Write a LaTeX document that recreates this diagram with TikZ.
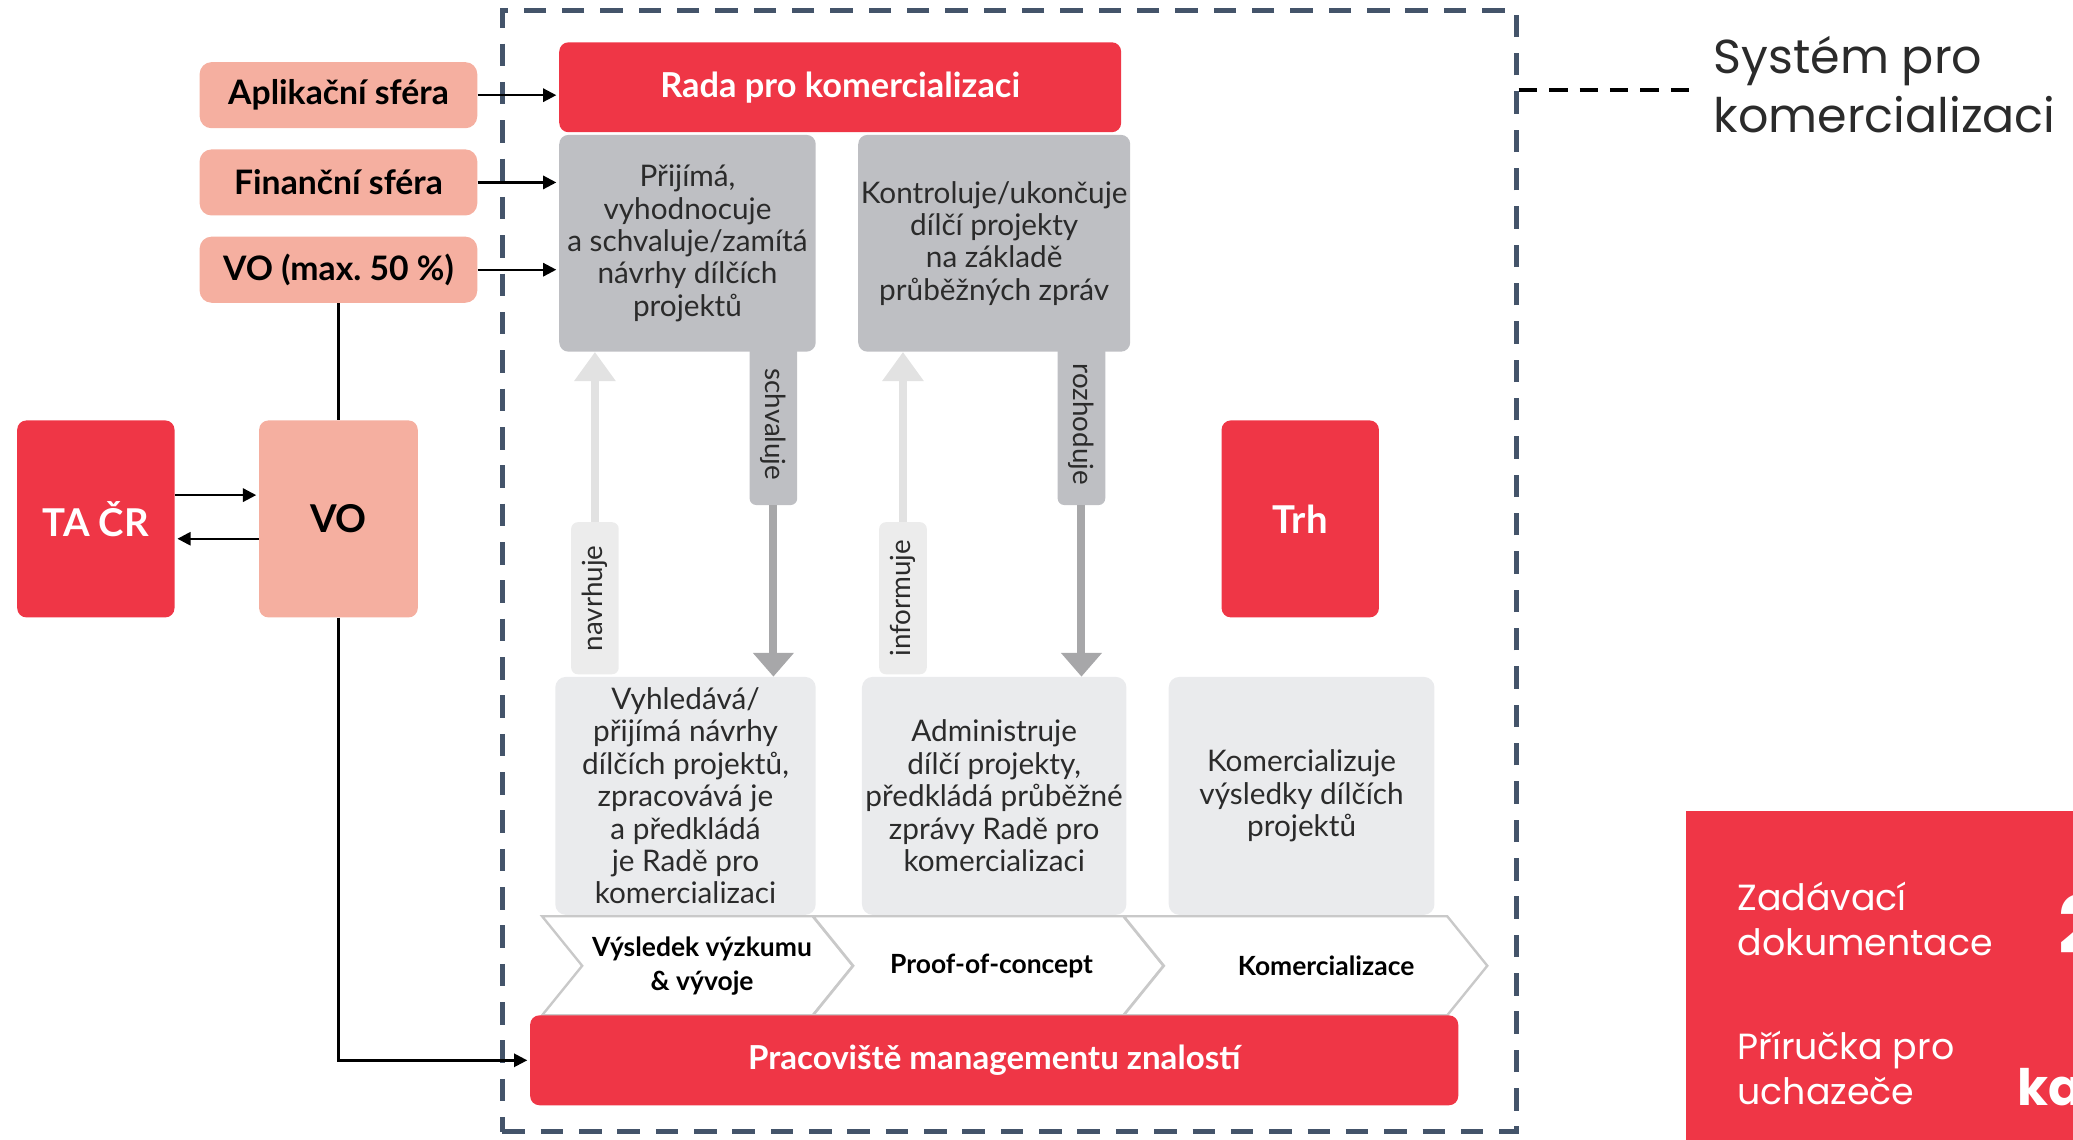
\documentclass[tikz,border=0pt]{standalone}
\usepackage{fontspec}
\setmainfont{Lato}
\newfontfamily\gothic{Poppins}
\usetikzlibrary{positioning,arrows.meta,shapes.symbols}

\definecolor{crred}{HTML}{EF3646}
\definecolor{crpink}{HTML}{F5AFA0}
\definecolor{crgrey}{HTML}{BEBFC3}
\definecolor{crlight}{HTML}{EAEBED}
\definecolor{crnote}{HTML}{ECECEC}
\definecolor{crdark}{HTML}{A7A7A9}
\definecolor{crpale}{HTML}{E2E2E2}
\definecolor{crchev}{HTML}{C9C9C9}
\definecolor{crslate}{HTML}{44546A}
\definecolor{crtext}{HTML}{2B2B2B}

\tikzset{
  redbox/.style={fill=crred, rounded corners=7pt, text=white, inner sep=2pt,
    font=\bfseries\fontsize{26}{30}\selectfont},
  bigred/.style={redbox, minimum width=119pt, minimum height=149pt,
    font=\bfseries\fontsize{29}{32}\selectfont},
  pinkbox/.style={fill=crpink, rounded corners=9pt, text=black, inner sep=2pt,
    minimum width=210pt, minimum height=50pt, font=\bfseries\fontsize{25.5}{28}\selectfont},
  greybox/.style={fill=crgrey, rounded corners=7pt, text=crtext, align=center, inner sep=2pt,
    font=\fontsize{22.5}{24.5}\selectfont},
  lightbox/.style={fill=crlight, rounded corners=8pt, text=crtext, align=center, inner sep=2pt,
    minimum height=180pt, font=\fontsize{22.5}{24.5}\selectfont},
  tabbox/.style={fill=crgrey, rounded corners=5pt, text=crtext, inner sep=2pt,
    minimum width=122pt, minimum height=36pt, font=\fontsize{21}{24}\selectfont},
  notebox/.style={tabbox, fill=crnote, minimum width=115pt},
  chevron/.style={shape=signal, signal from=west, signal to=east, signal pointer angle=102,
    draw=crchev, line width=1.8pt, fill=white, minimum height=75pt, inner sep=0pt},
  phasetext/.style={align=center, inner sep=0pt, font=\bfseries\fontsize{20}{26}\selectfont},
  sysframe/.style={draw=crslate, line width=3.5pt, dash pattern=on 17pt off 12pt},
  legendline/.style={draw=black, line width=3.5pt, dash pattern=on 14pt off 9pt},
  blackarrow/.style={draw=black, line width=1.8pt, shorten >=2pt,
    -{Triangle[width=10pt,length=10pt]}},
  plainline/.style={draw=black, line width=1.8pt},
  darkarrow/.style={draw=crdark, line width=6pt, -{Triangle[width=30pt,length=18pt]}},
  palearrow/.style={draw=crpale, line width=6pt, -{Triangle[width=30pt,length=22pt]}},
  gothictext/.style={inner sep=0pt, align=left, font=\gothic\fontsize{27.5}{34}\selectfont},
}

\begin{document}
\begin{tikzpicture}[x=1pt,y=-1pt]
  \useasboundingbox (0,0) rectangle (1568,862);

  % system frame and legend
  \node[sysframe, minimum width=767pt, minimum height=848pt] (sys) at (763.5,432) {};
  \coordinate (leg) at (1283,68);
  \draw[legendline] (sys.east |- leg) -- (leg);
  \node[gothictext, anchor=west, text=crtext, font=\gothic\fontsize{36}{45}\selectfont]
    (systxt) at (1296,64) {Systém pro\\komercializaci};

  % phases
  \node[chevron, minimum width=235pt] (vysl) at (527.5,730.5) {};
  \node[chevron, minimum width=265pt] (poc) at (747.5,730.5) {};
  \node[chevron, minimum width=275pt] (komz) at (987.5,730.5) {};
  \node[phasetext] (vysltxt) at (531,730.5) {Výsledek výzkumu\\\& vývoje};
  \node[phasetext] (poctxt) at (750,730.5) {Proof-of-concept};
  \node[phasetext] (komztxt) at (1003,730.5) {Komercializace};

  % knowledge management tasks
  \node[lightbox, minimum width=197pt] (vyhl) at (518.5,602)
    {Vyhledává/\\přijímá návrhy\\dílčích projektů,\\zpracovává je\\a předkládá\\je Radě pro\\komercializaci};
  \node[lightbox, minimum width=200pt] (admin) at (752,602)
    {Administruje\\dílčí projekty,\\předkládá průběžné\\zprávy Radě pro\\komercializaci};
  \node[lightbox, minimum width=201pt] (komer) at (984.5,602)
    {Komercializuje\\výsledky dílčích\\projektů};

  % tabs under the board
  \node[tabbox, rotate=-90] (schv) at (585,321) {schvaluje};
  \node[tabbox, rotate=-90] (rozh) at (818,321) {rozhoduje};
  \node[notebox, rotate=90] (navr) at (450,452.5) {navrhuje};
  \node[notebox, rotate=90] (info) at (683,452.5) {informuje};

  % board
  \node[redbox, minimum width=425pt, minimum height=68pt] (rada) at (635.5,66) {Rada pro komercializaci};
  \node[greybox, minimum width=194pt, minimum height=164pt] (prij) at (520,184)
    {Přijímá,\\vyhodnocuje\\a schvaluje/zamítá\\návrhy dílčích\\projektů};
  \node[greybox, minimum width=194pt, minimum height=164pt] (kontr) at (752,184)
    {Kontroluje/ukončuje\\dílčí projekty\\na základě\\průběžných zpráv};
  \node[redbox, minimum width=702pt, minimum height=68pt, font=\bfseries\fontsize{25}{30}\selectfont]
    (prac) at (752,802) {Pracoviště managementu znalostí};
  \node[bigred] (trh) at (983.5,392.5) {Trh};

  % outside actors
  \node[pinkbox] (apl) at (256,72) {Aplikační sféra};
  \node[pinkbox] (fin) at (256,138) {Finanční sféra};
  \node[pinkbox] (vomax) at (256,204) {VO (max.~50~\%)};
  \node[bigred] (tacr) at (72.5,392.5) {TA ČR};
  \node[bigred, fill=crpink, text=black, minimum width=120pt] (vo) at (256,392.5) {VO};

  % connectors
  \draw[blackarrow] (apl) -- (apl -| rada.west);
  \draw[blackarrow] (fin) -- (fin -| prij.west);
  \draw[blackarrow] (vomax) -- (vomax -| prij.west);
  \draw[plainline] (vomax) -- (vo);
  \draw[blackarrow] ([yshift=18pt]tacr.east) -- ([yshift=18pt]vo.west);
  \draw[blackarrow] ([yshift=-15pt]vo.west) -- ([yshift=-15pt]tacr.east);
  \draw[blackarrow] (vo) |- (prac);
  \draw[darkarrow] (schv.east) -- (schv.east |- vyhl.north);
  \draw[darkarrow] (rozh.east) -- (rozh.east |- admin.north);
  \draw[palearrow] (navr.east) -- (navr.east |- prij.south);
  \draw[palearrow] (info.east) -- (info.east |- kontr.south);

  % document tab
  \node[fill=crred, anchor=north west, minimum width=300pt, minimum height=260pt] (doc) at (1275,613) {};
  \node[gothictext, anchor=west, text=white] (zad) at (1314,695) {Zadávací\\dokumentace};
  \node[gothictext, anchor=west, text=white] (prir) at (1314,808) {Příručka pro\\uchazeče};
  \node[gothictext, anchor=base west, text=white, font=\gothic\bfseries\fontsize{60}{60}\selectfont]
    (rok) at (1557,721) {2};
  \node[gothictext, anchor=base west, text=white, font=\gothic\bfseries\fontsize{38}{38}\selectfont]
    (kap) at (1526,836) {ka};
\end{tikzpicture}
\end{document}
